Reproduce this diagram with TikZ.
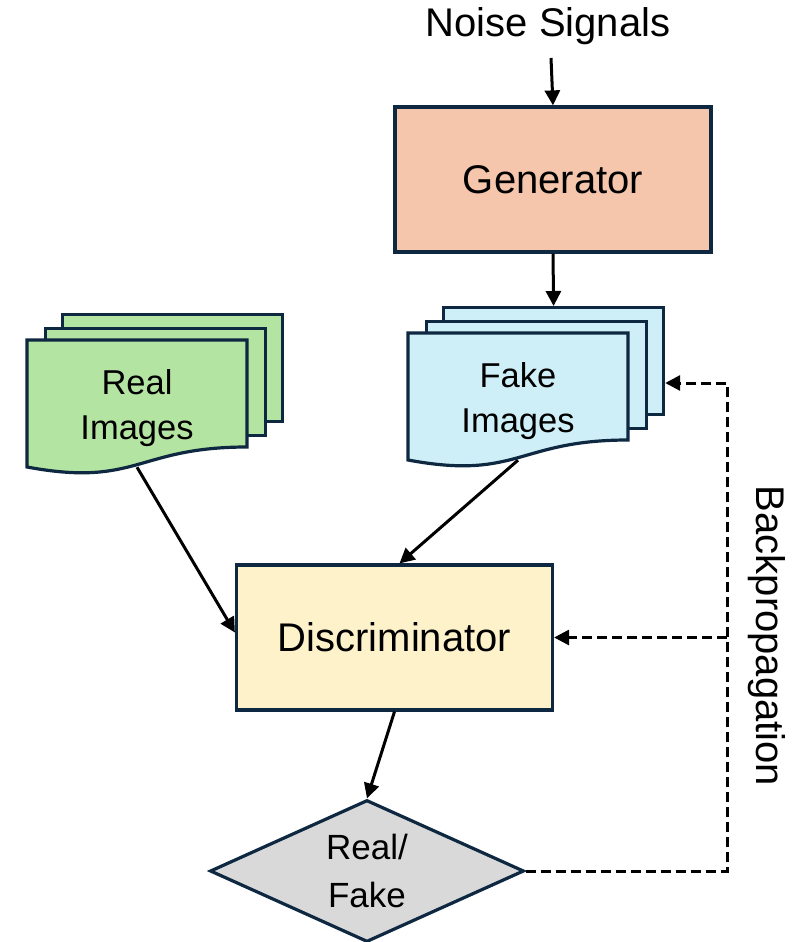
\documentclass[tikz,border=0pt]{standalone}
\usepackage{fontspec}
\setmainfont{Liberation Sans}
\usetikzlibrary{arrows.meta,shapes.geometric,calc}

\definecolor{edge}{HTML}{0E2841}
\definecolor{genfill}{HTML}{F6C6AC}
\definecolor{discfill}{HTML}{FEF2CB}
\definecolor{realfill}{HTML}{B4E4A1}
\definecolor{fakefill}{HTML}{CFEFF8}
\definecolor{judgefill}{HTML}{D9D9D9}

\begin{document}
\begin{tikzpicture}[x=1pt,y=-1pt,
  bigtxt/.style={font=\fontsize{40}{48}\selectfont},
  doctxt/.style={font=\fontsize{34.5}{45}\selectfont, align=center,
    inner sep=0pt, minimum width=220pt, minimum height=117pt},
  judgetxt/.style={font=\fontsize{35}{48}\selectfont, align=center, inner sep=0pt},
  block/.style={draw=edge, line width=3.2pt, inner sep=0pt,
    minimum width=316pt, minimum height=145pt, bigtxt},
  sheet/.style={draw=edge, line width=3.2pt, inner sep=0pt,
    minimum width=220pt, minimum height=107pt, anchor=north west},
  sheetline/.style={draw=edge, line width=3.2pt},
  decision/.style={shape=diamond, draw=edge, line width=3.2pt, fill=judgefill,
    inner sep=0pt, minimum width=314pt, minimum height=142pt},
  flow/.style={line width=3pt, -{Triangle[length=15pt,width=15pt]}},
  feedback/.style={line width=3pt, dash pattern=on 10pt off 5pt,
    -{Triangle[length=15pt,width=15pt]}},
]
\useasboundingbox (0,0) rectangle (799,942);
\fill[white] (0,0) rectangle (799,942);

% input label and generator
\node[bigtxt, anchor=base] (noise) at (548,37) {Noise Signals};
\node[block, fill=genfill] (gen) at (553,179.5) {Generator};

% stack of generated images
\coordinate (fakeTL) at (408,333);
\node[sheet, fill=fakefill] (fakeback) at ($(fakeTL)+(34,-27)$) {};
\node[sheet, fill=fakefill] (fakemid) at ($(fakeTL)+(17,-13.5)$) {};
\draw[sheetline, fill=fakefill] (fakeTL) -- ($(fakeTL)+(220,0)$) -- ($(fakeTL)+(220,107)$)
  .. controls ($(fakeTL)+(110,107)$) and ($(fakeTL)+(110,147.5)$) .. ($(fakeTL)+(0,127)$) -- cycle;
\node[doctxt] (fake) at ($(fakeTL)+(110,68.5)$) {Fake\\Images};

% stack of real images
\coordinate (realTL) at (27,340);
\node[sheet, fill=realfill] (realback) at ($(realTL)+(34,-27)$) {};
\node[sheet, fill=realfill] (realmid) at ($(realTL)+(17,-13.5)$) {};
\draw[sheetline, fill=realfill] (realTL) -- ($(realTL)+(220,0)$) -- ($(realTL)+(220,107)$)
  .. controls ($(realTL)+(110,107)$) and ($(realTL)+(110,147.5)$) .. ($(realTL)+(0,127)$) -- cycle;
\node[doctxt] (real) at ($(realTL)+(110,68.5)$) {Real\\Images};

% discriminator and its verdict
\node[block, fill=discfill] (disc) at (394.5,637.5) {Discriminator};
\node[decision] (judge) at (367,871) {};
\node[judgetxt] (verdict) at (judge) {Real/\\Fake};

% forward flow
\draw[flow] ([xshift=3pt,yshift=-21pt]noise.base) -- (gen.north);
\draw[flow] (gen.south) -- (fakeback.north);
\draw[flow] (real.south) -- ($(disc.west)+(0,-5)$);
\draw[flow] (fake.south) -- ($(disc.north)+(5,0)$);
\draw[flow] (disc.south) -- (judge.north);

% backpropagation feedback
\coordinate (bus) at (727,383);
\draw[feedback] (judge.east) -| (bus) -- (bus -| fakeback.east);
\draw[feedback] (bus |- disc.east) -- (disc.east);
\node[bigtxt, rotate=-90] (bp) at (767,636) {Backpropagation};
\end{tikzpicture}
\end{document}
